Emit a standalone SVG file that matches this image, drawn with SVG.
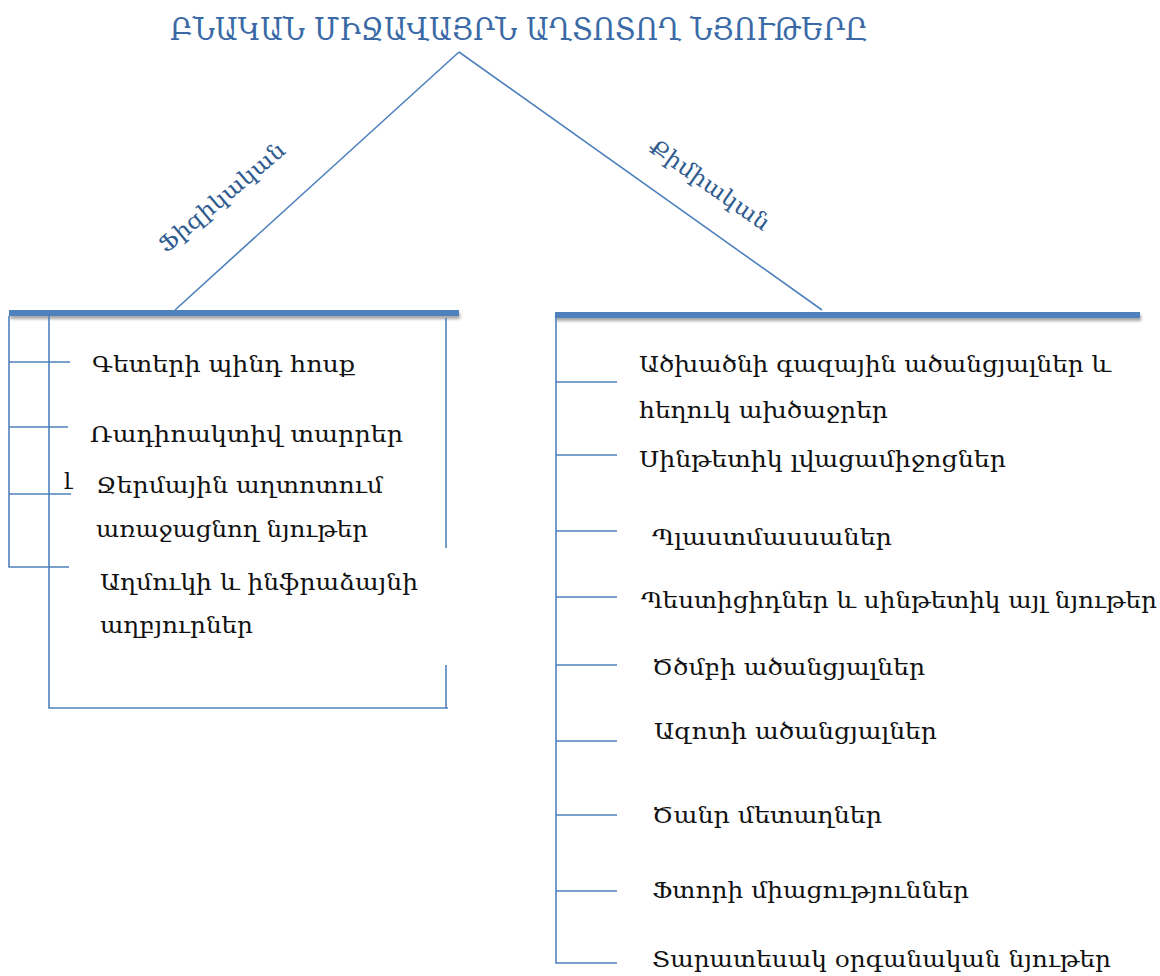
<svg xmlns="http://www.w3.org/2000/svg" width="1160" height="976" viewBox="0 0 1160 976">
<defs>
<filter id="sh" filterUnits="userSpaceOnUse" x="0" y="290" width="1160" height="50">
<feDropShadow dx="1" dy="3" stdDeviation="1.5" flood-color="#808080" flood-opacity="0.7"/>
</filter>
</defs>
<style>
.ln{stroke:#4F81BD;stroke-width:1.6;fill:none}
.bar{fill:#4F81BD}
.t{font-family:"DejaVu Serif","DejaVu Sans",serif;font-size:23px;fill:#111}
.title{font-family:"DejaVu Serif","DejaVu Sans",serif;font-size:32px;fill:#3A6AA6}
.lab{font-family:"DejaVu Serif","DejaVu Sans",serif;font-size:22px;fill:#2F5C8F}
</style>
<rect width="1160" height="976" fill="#fff"/>
<g id="title"><text class="title" x="170" y="40" textLength="698" lengthAdjust="spacingAndGlyphs">ԲՆԱԿԱՆ ՄԻՋԱՎԱՅՐՆ ԱՂՏՈՏՈՂ ՆՅՈՒԹԵՐԸ</text></g>
<g id="connectors">
<path class="ln" d="M459 52 L175 310 M459 52 L822 310"/>
<rect class="bar" x="9" y="310" width="450" height="6" filter="url(#sh)"/>
<rect class="bar" x="555" y="312" width="585" height="6" filter="url(#sh)"/>
<path class="ln" d="M9 316 V567 H69 M9 362 H70 M9 427 H68 M9 494 H71"/>
<path class="ln" d="M49 316 V708 H448 M446 318 V548 M446 665 V708"/>
<path class="ln" d="M556 318 V963 H617 M556 382 H617 M556 455 H617 M556 531 H617 M556 597 H617 M556 665 H617 M556 741 H617 M556 815 H617 M556 891 H617"/>
</g>
<g id="label-physical"><text class="lab" transform="translate(166,254) rotate(-40)" textLength="158" lengthAdjust="spacingAndGlyphs">Ֆիզիկական</text></g>
<g id="label-chemical"><text class="lab" transform="translate(647,150) rotate(35)" textLength="142" lengthAdjust="spacingAndGlyphs">Քիմիական</text></g>
<g id="left-items">
<text class="t" x="92" y="372" textLength="263" lengthAdjust="spacingAndGlyphs">Գետերի պինդ հոսք</text>
<text class="t" x="90" y="442" textLength="313" lengthAdjust="spacingAndGlyphs">Ռադիոակտիվ տարրեր</text>
<text class="t" x="64" y="484" font-size="18" font-weight="300">լ</text>
<text class="t" x="96" y="493" textLength="287" lengthAdjust="spacingAndGlyphs">Ջերմային աղտոտում</text>
<text class="t" x="96" y="537" textLength="272" lengthAdjust="spacingAndGlyphs">առաջացնող նյութեր</text>
<text class="t" x="100" y="590" textLength="318" lengthAdjust="spacingAndGlyphs">Աղմուկի և ինֆրաձայնի</text>
<text class="t" x="100" y="633" textLength="153" lengthAdjust="spacingAndGlyphs">աղբյուրներ</text>
</g>
<g id="right-items">
<text class="t" x="639" y="372" textLength="472" lengthAdjust="spacingAndGlyphs">Ածխածնի գազային ածանցյալներ և</text>
<text class="t" x="639" y="418" textLength="249" lengthAdjust="spacingAndGlyphs">հեղուկ ախծաջրեր</text>
<text class="t" x="639" y="467" textLength="367" lengthAdjust="spacingAndGlyphs">Սինթետիկ լվացամիջոցներ</text>
<text class="t" x="652" y="545" textLength="240" lengthAdjust="spacingAndGlyphs">Պլաստմասսաներ</text>
<text class="t" x="641" y="608" textLength="516" lengthAdjust="spacingAndGlyphs">Պեստիցիդներ և սինթետիկ այլ նյութեր</text>
<text class="t" x="652" y="675" textLength="273" lengthAdjust="spacingAndGlyphs">Ծծմբի ածանցյալներ</text>
<text class="t" x="654" y="739" textLength="283" lengthAdjust="spacingAndGlyphs">Ազոտի ածանցյալներ</text>
<text class="t" x="652" y="823" textLength="230" lengthAdjust="spacingAndGlyphs">Ծանր մետաղներ</text>
<text class="t" x="652" y="898" textLength="317" lengthAdjust="spacingAndGlyphs">Ֆտորի միացություններ</text>
<text class="t" x="652" y="967" textLength="459" lengthAdjust="spacingAndGlyphs">Տարատեսակ օրգանական նյութեր</text>
</g>
</svg>
